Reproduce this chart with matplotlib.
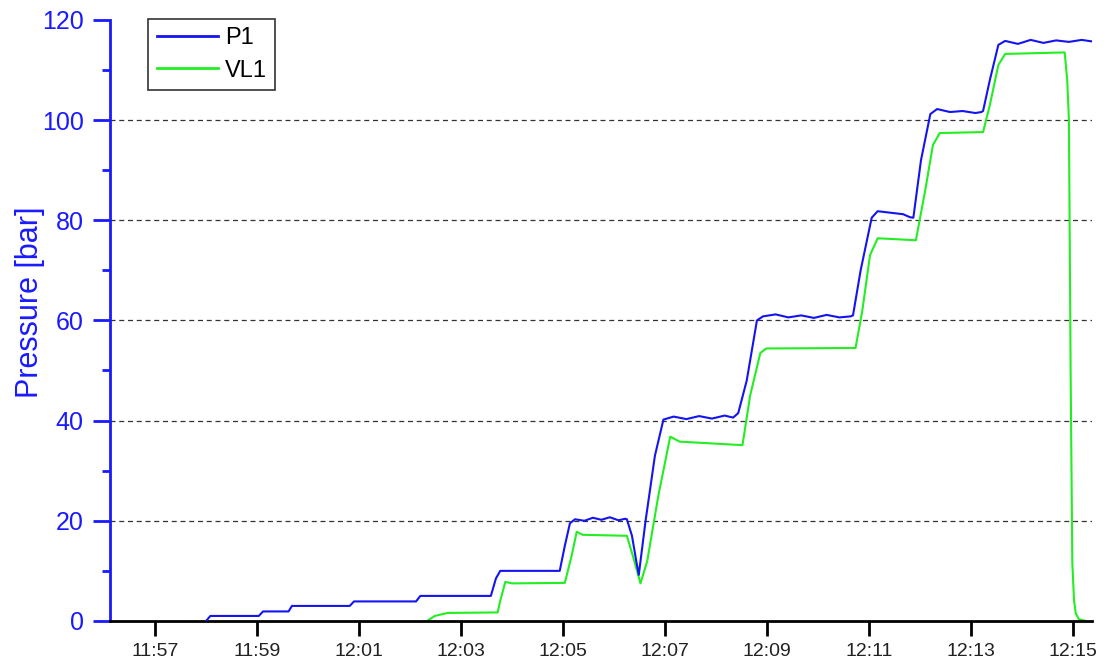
import pandas as pd
import matplotlib
matplotlib.use("Agg")
import matplotlib.pyplot as plt
import matplotlib.dates as mdates
from matplotlib.ticker import MultipleLocator

plt.rcParams["font.family"] = ["Liberation Sans", "DejaVu Sans"]

DAY = "2020-01-01 "

# P1 pressure trace (time, bar)
p1_time = ["11:58:00", "11:58:05", "11:59:02", "11:59:07", "11:59:37", "11:59:41",
           "12:00:49", "12:00:54", "12:02:07", "12:02:12", "12:03:35", "12:03:41",
           "12:03:46", "12:04:56", "12:05:02", "12:05:08", "12:05:14", "12:05:25",
           "12:05:35", "12:05:45", "12:05:55", "12:06:05", "12:06:13", "12:06:15",
           "12:06:21", "12:06:26", "12:06:29", "12:06:37", "12:06:48", "12:06:58",
           "12:07:10", "12:07:25", "12:07:40", "12:07:55", "12:08:10", "12:08:20",
           "12:08:26", "12:08:36", "12:08:48", "12:08:55", "12:09:10", "12:09:25",
           "12:09:40", "12:09:55", "12:10:10", "12:10:25", "12:10:38", "12:10:41",
           "12:10:50", "12:11:03", "12:11:10", "12:11:25", "12:11:40", "12:11:48",
           "12:11:52", "12:12:01", "12:12:12", "12:12:20", "12:12:35", "12:12:50",
           "12:13:05", "12:13:12", "12:13:14", "12:13:22", "12:13:32", "12:13:40",
           "12:13:55", "12:14:10", "12:14:25", "12:14:40", "12:14:55", "12:15:10",
           "12:15:22"]
p1_bar = [0.0, 1.0, 1.0, 1.9, 1.9, 3.0,
          3.0, 3.9, 3.9, 5.0, 5.0, 8.5,
          10.0, 10.0, 15.0, 19.5, 20.3, 20.0,
          20.6, 20.2, 20.7, 20.1, 20.4, 20.3,
          17.0, 12.0, 9.2, 20.0, 33.0, 40.2,
          40.8, 40.3, 40.9, 40.4, 41.0, 40.6,
          41.5, 48.0, 60.0, 60.8, 61.2, 60.6,
          61.0, 60.5, 61.1, 60.6, 60.8, 61.0,
          70.0, 80.5, 81.8, 81.5, 81.2, 80.6,
          80.5, 92.0, 101.2, 102.2, 101.6, 101.8,
          101.4, 101.6, 101.8, 108.0, 115.0, 115.8,
          115.2, 116.0, 115.4, 115.9, 115.6, 116.0,
          115.7]

# VL1 pressure trace (time, bar)
vl1_time = ["12:02:20", "12:02:29", "12:02:44", "12:03:43", "12:03:46", "12:03:52",
            "12:04:00", "12:05:02", "12:05:10", "12:05:16", "12:05:23", "12:06:15",
            "12:06:22", "12:06:31", "12:06:39", "12:06:52", "12:07:06", "12:07:17",
            "12:08:31", "12:08:40", "12:08:52", "12:08:59", "12:10:44", "12:10:52",
            "12:11:01", "12:11:10", "12:11:55", "12:12:06", "12:12:15", "12:12:23",
            "12:13:14", "12:13:22", "12:13:32", "12:13:40", "12:14:50", "12:14:53",
            "12:14:55", "12:14:57", "12:14:59", "12:15:01", "12:15:03", "12:15:07",
            "12:15:15"]
vl1_bar = [0.0, 1.0, 1.6, 1.7, 4.0, 7.8,
           7.5, 7.6, 13.0, 17.8, 17.2, 17.0,
           13.0, 7.5, 12.0, 25.0, 36.8, 35.8,
           35.1, 45.0, 53.5, 54.4, 54.5, 62.0,
           73.0, 76.4, 76.0, 86.0, 95.0, 97.4,
           97.6, 103.0, 111.0, 113.2, 113.5, 108.0,
           100.0, 50.0, 11.6, 4.2, 1.5, 0.3,
           0.0]

grid_levels = [20, 40, 60, 80, 100]
x_start, x_end = "11:56:07", "12:15:22"

blue = "#1414f0"
axis_blue = "#1a1aff"
green = "#22ee22"

p1_t = pd.to_datetime([DAY + t for t in p1_time])
vl1_t = pd.to_datetime([DAY + t for t in vl1_time])

fig = plt.figure(figsize=(11.17, 6.62), dpi=100)
ax = fig.add_axes([0.0985, 0.062, 0.879, 0.908])

for g in grid_levels:
    ax.axhline(g, color="#333333", lw=0.9, ls=(0, (4, 3)), zorder=1)

ax.plot(p1_t, p1_bar, color=blue, lw=1.5, label="P1", zorder=3)
ax.plot(vl1_t, vl1_bar, color=green, lw=1.5, label="VL1", zorder=2)

ax.set_xlim(pd.Timestamp(DAY + x_start), pd.Timestamp(DAY + x_end))
ax.set_ylim(0, 120)

ax.xaxis.set_major_locator(mdates.MinuteLocator(byminute=range(1, 60, 2)))
ax.xaxis.set_major_formatter(mdates.DateFormatter("%H:%M"))
ax.yaxis.set_major_locator(MultipleLocator(20))
ax.yaxis.set_minor_locator(MultipleLocator(10))

for side in ["top", "right"]:
    ax.spines[side].set_visible(False)
ax.spines["left"].set_color(axis_blue)
ax.spines["left"].set_linewidth(2)
ax.spines["bottom"].set_color("black")
ax.spines["bottom"].set_linewidth(2)

ax.tick_params(axis="y", which="major", direction="out", length=12, width=2,
               colors=axis_blue, labelsize=18, pad=7)
ax.tick_params(axis="y", which="minor", direction="out", length=6, width=2,
               colors=axis_blue)
ax.tick_params(axis="x", which="major", direction="out", length=11, width=2,
               colors="black", labelsize=14, labelcolor="#222222", pad=5)

ax.set_ylabel("Pressure [bar]", color=axis_blue, fontsize=22)
ax.yaxis.set_label_coords(-0.066, 0.53)

leg = ax.legend(loc="upper left", bbox_to_anchor=(0.039, 1.002), borderaxespad=0,
                fontsize=17, handlelength=2.6, handletextpad=0.3,
                labelspacing=0.45, borderpad=0.35, fancybox=False, framealpha=1)
leg.get_frame().set_edgecolor("#333333")
leg.get_frame().set_linewidth(1.2)
for line in leg.get_lines():
    line.set_linewidth(2)

fig.savefig("out.png", dpi=100)
